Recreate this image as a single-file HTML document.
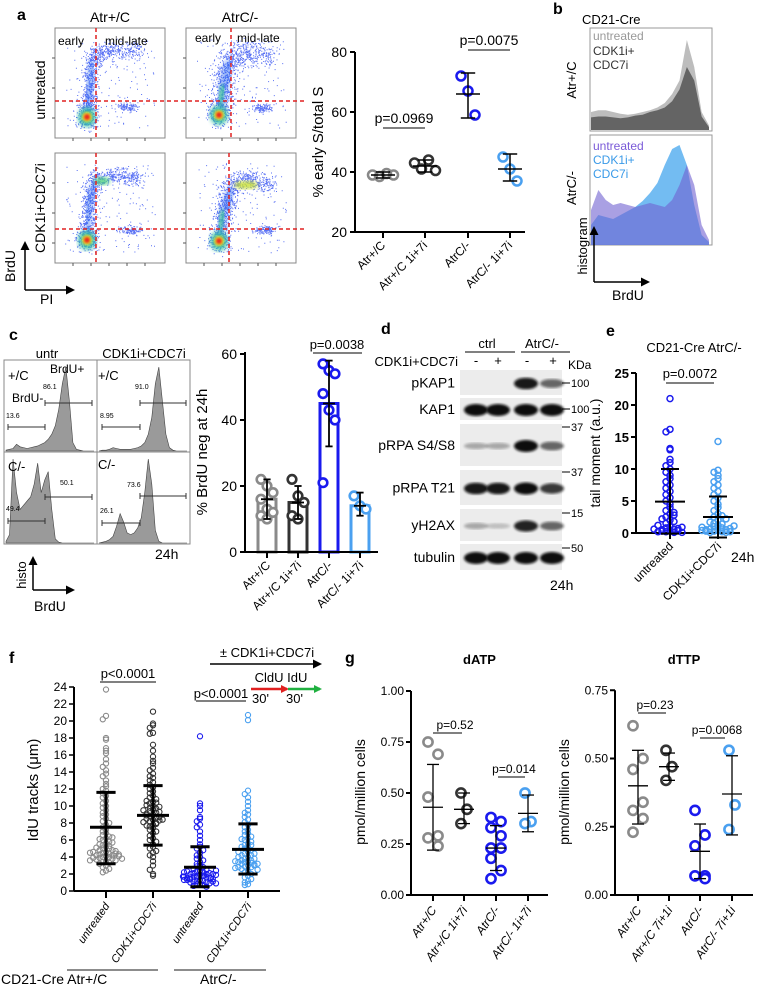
<!DOCTYPE html>
<html><head><meta charset="utf-8"><style>
html,body{margin:0;padding:0;background:#fff}
svg{display:block;font-family:"Liberation Sans",Arial,sans-serif}
</style></head><body>
<svg id="fig" width="764" height="988" viewBox="0 0 764 988" xmlns="http://www.w3.org/2000/svg">
<defs>
<filter id="b2"><feGaussianBlur stdDeviation="2"/></filter>
<filter id="b4"><feGaussianBlur stdDeviation="4"/></filter>
<filter id="b1"><feGaussianBlur stdDeviation="1.2"/></filter>
<marker id="ah" markerUnits="userSpaceOnUse" markerWidth="9" markerHeight="9" refX="7" refY="4.5" orient="auto"><path d="M0,0 L9,4.5 L0,9 z" fill="#000"/></marker>
<marker id="ahr" markerUnits="userSpaceOnUse" markerWidth="8" markerHeight="8" refX="6" refY="4" orient="auto"><path d="M0,0 L8,4 L0,8 z" fill="#e02020"/></marker>
<marker id="ahg" markerUnits="userSpaceOnUse" markerWidth="8" markerHeight="8" refX="6" refY="4" orient="auto"><path d="M0,0 L8,4 L0,8 z" fill="#20b040"/></marker>
</defs>
<g id="root"></g>
</svg>
<script>
// ---------- DATA ----------
// panel a
const aCats=["Atr+/C","Atr+/C 1i+7i","AtrC/-","AtrC/- 1i+7i"];
const aVals=[[39,38.5,39.5,39],[43,41,44,40.5],[72,67,59],[45,41,37]];
const aMeans=[39,42,66,41];
const aLo=[38,40,58,37];
const aHi=[40,44,73,46];
const aTicks=[20,40,60,80];
// panel c
const cCats=["Atr+/C","Atr+/C 1i+7i","AtrC/-","AtrC/- 1i+7i"];
const cVals=[[22,20,18,16,13,12,11,10],[22,17,15,11,10],[57,55,54,48,43,40,21],[17,14,13]];
const cMeans=[16,15,45,14];
const cLo=[10,10,32,11];
const cHi=[22,20,58,18];
const cTicks=[0,20,40,60];
// panel e
const eCats=["untreated","CDK1i+CDC7i"];
const eUntr=[21,16.2,15.8,13.2,13,11.5,11,10.5,10,9.5,9,8.5,8,7.5,7,6.5,6,5.5,5,4.5,4,3.5,3,2.5,2,1.5,1,0.8,0.6,0.4,0.2,0.1,0.5,0.7,0.3,1.2,1.8,2.2,2.8,3.2,0.9,0.6,0.4,0.2,0.1];
const eTreat=[14.3,9.8,9.5,9,8.5,8,7.5,7,6.5,6,5.5,5,4.5,4,3.5,3,2.5,2,1.5,1.2,1,0.8,0.6,0.5,0.4,0.3,0.2,0.1,0.1,0.3,0.5,0.7,0.9,1.1,1.4,1.7,2.2,2.7,0.2,0.4];
const eMeans=[4.9,2.5];
const eLo=[-0.1,-0.7];
const eHi=[10,5.7];
const eTicks=[0,5,10,15,20,25];
// panel f
const fCats=["untreated","CDK1i+CDC7i","untreated","CDK1i+CDC7i"];
const fG1=[23.7,20.6,20.2,18,17.8,16.8,16.5,16.2,15.5,15,14.6,14.2,13.8,13.5,13,12.6,12.3,12,11.8,11.5,11.2,11,10.6,10.3,10,9.8,9.5,9.2,9,8.8,8.5,8.2,8,7.8,7.5,7.2,7,6.8,6.6,6.4,6.2,6,5.8,5.6,5.4,5.2,5,5,4.8,4.6,4.5,4.4,4.3,4.2,4.1,4,4,3.9,3.8,3.7,3.6,3.5,3.4,3.3,3.2,3,2.8,2.6,2.4,2.2,4.2,4.4,4.6,4.8,5.1,5.3,5.5,5.7,6.1,6.3,3.9,4.1,4.3,4.5,4.7,3.6,3.8];
const fG2=[21.1,19.7,19.5,19.2,18.6,18.5,17.2,16.5,15.8,15.3,15,14.5,14.2,13.8,13.5,13.3,13,12.8,12.5,12.2,12,11.7,11.5,11.2,11,10.8,10.5,10.3,10,9.8,9.6,9.4,9.2,9,8.8,8.6,8.4,8.2,8,7.8,7.6,7.4,7.2,7,6.8,6.5,6.2,6,5.8,5.5,5.2,5,4.7,4.5,4.2,4,3.5,3,2.5,2,1.8,9.1,9.3,8.9,8.7,8.5,8.3,9.5,9.7,10.1,10.4,7.9,7.7,8.1,8.4,9.9,10.6];
const fG3=[18.2,10.3,10,9.5,8.7,8.5,8.2,7.8,7.5,7,6.5,6,5.5,5.2,5,4.8,4.5,4.2,4,3.8,3.6,3.4,3.2,3,2.9,2.8,2.6,2.5,2.4,2.3,2.2,2.1,2,2,1.9,1.8,1.8,1.7,1.6,1.6,1.5,1.5,1.4,1.3,1.2,1.2,1.1,1,1,0.9,0.8,0.8,0.7,0.6,0.5,1.7,1.9,2.1,2.3,1.4,1.6,1.8,2,1.3,1.5,2.2,2.4,1.1,1.3,1.7,0.9];
const fG4=[20.7,20.1,11.8,11.4,11,10.5,10,9.5,9.2,9,8.7,8.4,8.1,7.8,7.5,7.2,7,6.8,6.6,6.4,6.2,6,5.8,5.6,5.4,5.2,5,4.8,4.6,4.4,4.2,4,3.8,3.6,3.5,3.4,3.3,3.2,3.1,3,2.9,2.8,2.6,2.4,2.2,2,1.8,1.6,1.4,1.2,1,0.8,0.7,3.4,3.6,3.8,4,4.2,3.2,3,2.8,4.4,5.2,5.4,2.5,2.7,3.5,4.6,6.1];
const fMeans=[7.5,8.9,2.8,4.9];
const fLo=[3.2,5.4,0.5,2];
const fHi=[11.6,12.4,5.2,7.9];
const fTicks=[0,2,4,6,8,10,12,14,16,18,20,22,24];
// panel g
const gCats=["Atr+/C","Atr+/C 1i+7i","AtrC/-","AtrC/- 1i+7i"];
const gCats2=["Atr+/C","Atr+/C 7i+1i","AtrC/-","AtrC/- 7i+1i"];
const dATP=[[0.75,0.69,0.48,0.29,0.28,0.24],[0.50,0.42,0.35],[0.38,0.36,0.33,0.29,0.23,0.23,0.18,0.12,0.08],[0.50,0.36,0.35]];
const dATPm=[0.43,0.42,0.23,0.40];
const dATPlo=[0.22,0.35,0.12,0.31];
const dATPhi=[0.64,0.50,0.34,0.49];
const dTTP=[[0.62,0.50,0.46,0.34,0.31,0.28,0.23],[0.53,0.47,0.42],[0.31,0.22,0.18,0.07,0.07,0.06],[0.53,0.33,0.24]];
const dTTPm=[0.40,0.47,0.16,0.37];
const dTTPlo=[0.26,0.42,0.06,0.22];
const dTTPhi=[0.53,0.52,0.26,0.51];
const gTicksA=[0,0.25,0.5,0.75,1.0];
const gTicksT=[0,0.25,0.5,0.75];
// histogram shapes (relative heights)
const hC1=[1,2,3,8,5,4,3,4,5,6,8,10,14,20,30,50,80,100,60,10,2,1,0,0,0,0];
const hC2=[0,1,1,2,4,3,2,2,2,2,3,4,6,10,20,40,80,100,60,20,4,1,0,0,0,0];
const hC3=[2,10,100,60,40,45,50,55,70,95,60,75,85,40,5,1,0,0,0,0,0,0,0,0,0,0];
const hC4=[0,1,2,4,8,20,35,25,12,10,12,18,30,60,100,70,15,2,0,0,0,0,0,0,0,0];
const hB1=[20,22,22,20,18,17,18,20,22,25,30,40,55,100,70,20,5];
const hB2=[14,15,15,14,13,14,16,17,20,22,25,32,45,70,55,15,3];
const hB3=[35,55,45,40,42,40,38,40,42,40,38,45,60,80,60,20,5];
const hB4=[20,30,28,26,30,34,38,44,52,62,80,96,100,80,40,10,3];

const NS="http://www.w3.org/2000/svg";
const root=document.getElementById('root');
function el(tag,attrs,parent){const e=document.createElementNS(NS,tag);for(const k in attrs)e.setAttribute(k,attrs[k]);(parent||root).appendChild(e);return e;}
function tx(x,y,s,size,extra,parent){const e=el('text',Object.assign({x:x,y:y,'font-size':size||13,fill:'#000'},extra||{}),parent);e.textContent=s;return e;}
function ln(x1,y1,x2,y2,w,c,parent){return el('line',{x1:x1,y1:y1,x2:x2,y2:y2,stroke:c||'#000','stroke-width':w||1},parent);}

function errbar(g,cx,yM,yL,yH,hw,w,c){
  ln(cx,yL,cx,yH,w,c,g);ln(cx-hw*0.6,yL,cx+hw*0.6,yL,w,c,g);ln(cx-hw*0.6,yH,cx+hw*0.6,yH,w,c,g);ln(cx-hw,yM,cx+hw,yM,w,c,g);
}
function swarm(vals,binH,step,maxOff){
  const bins={};const offs=[];
  vals.forEach((v,i)=>{const b=Math.round(v/binH);bins[b]=(bins[b]||0);const k=bins[b];bins[b]++;let o=(k%2?-1:1)*Math.ceil(k/2)*step;if(Math.abs(o)>maxOff)o=((k*7)%(2*maxOff+1))-maxOff;offs.push(o);});
  return offs;
}
// deterministic texture generator for flow-cytometry speckle (visual only)
let seed=12345;function rnd(){seed=(seed*1103515245+12345)%2147483648;return seed/2147483648;}
function gauss(){return (rnd()+rnd()+rnd()-1.5)*1.4;}

// ================= PANEL A =================
tx(17,20,'a',16,{'font-weight':'bold',});
tx(110,22,'Atr+/C',14,{'text-anchor':'middle',});
tx(240,22,'AtrC/-',14,{'text-anchor':'middle',});
tx(45,90,'untreated',14,{'text-anchor':'middle',transform:'rotate(-90 45 90)',});
tx(45,208,'CDK1i+CDC7i',14,{'text-anchor':'middle',transform:'rotate(-90 45 208)',});
const facs=[
 {x:55,y:28,vx:96,pts:[[87,117],[89,90],[93,55],[110,50],[140,52]],side:[128,107],w:6,t:0},
 {x:186,y:28,vx:231,pts:[[219,115],[224,85],[230,55],[250,52],[268,56]],side:[262,108],w:9,t:1},
 {x:55,y:153,vx:96,pts:[[87,240],[88,210],[94,178],[115,176],[140,178]],side:[130,230],w:6,t:0},
 {x:186,y:153,vx:229,pts:[[219,241],[224,210],[232,182],[250,180],[272,186]],side:[265,230],w:7,t:1}];
facs.forEach((f,i)=>{
  const g=el('g',{});
  el('rect',{x:f.x,y:f.y,width:110,height:110,fill:'#fff',stroke:'#888','stroke-width':1},g);
  const P=f.pts;let d='';
  // speckle along the path
  for(let s=0;s<P.length-1;s++){
    const [x1,y1]=P[s],[x2,y2]=P[s+1];
    const n=s<2?260:180;
    for(let k=0;k<n;k++){const t=rnd();const x=x1+(x2-x1)*t+gauss()*f.w;const y=y1+(y2-y1)*t+gauss()*f.w;if(x>f.x+1&&x<f.x+109&&y>f.y+1&&y<f.y+109)d+=`M${x.toFixed(1)},${y.toFixed(1)}h1v1h-1z`;}
  }
  for(let k=0;k<150;k++){const x=f.x+10+rnd()*90,y=f.y+10+rnd()*90;d+=`M${x.toFixed(1)},${y.toFixed(1)}h1v1h-1z`;}
  for(let k=0;k<120;k++){const x=f.side[0]+gauss()*7,y=f.side[1]+gauss()*3;d+=`M${x.toFixed(1)},${y.toFixed(1)}h1v1h-1z`;}
  for(let k=0;k<200;k++){const x=P[0][0]+gauss()*8,y=P[0][1]+gauss()*8;d+=`M${x.toFixed(1)},${y.toFixed(1)}h1v1h-1z`;}
  el('path',{d:d,fill:'#2040f0',opacity:0.75},g);
  el('path',{d:`M${P[0][0]},${P[0][1]-6} L${P[1][0]},${P[1][1]} L${P[2][0]},${P[2][1]+6}`,stroke:'#2060f0','stroke-width':f.w+1,fill:'none',opacity:0.45,filter:'url(#b2)'},g);
  if(f.t) el('path',{d:`M${P[0][0]},${P[0][1]-10} L${P[1][0]},${P[1][1]}`,stroke:'#40d090','stroke-width':5,fill:'none',opacity:0.8,filter:'url(#b2)'},g);
  if(i>=2) el('ellipse',{cx:P[2][0]+(f.t?14:8),cy:P[2][1]+3,rx:f.t?12:8,ry:4,fill:f.t?'#c8e030':'#50d080',opacity:0.85,filter:'url(#b2)'},g);
  const [bx,by]=P[0];
  el('ellipse',{cx:bx,cy:by,rx:9,ry:10,fill:'#30c0a0',opacity:0.8,filter:'url(#b2)'},g);
  el('ellipse',{cx:bx,cy:by,rx:5,ry:5,fill:'#f0e020',filter:'url(#b1)'},g);
  el('ellipse',{cx:bx,cy:by,rx:3,ry:3,fill:'#e82020',filter:'url(#b1)'},g);
  for(let k=1;k<6;k++){ln(f.x+k*18,f.y+110,f.x+k*18,f.y+113,1,'#555',g);}
  for(let k=1;k<4;k++){ln(f.x-3,f.y+k*30,f.x,f.y+k*30,1,'#555',g);}
  ln(f.vx,f.y,f.vx,f.y+110,1.5,'#e02020',g).setAttribute('stroke-dasharray','4,3');
});
ln(55,101,305,101,1.5,'#e02020').setAttribute('stroke-dasharray','4,3');
ln(55,229,305,229,1.5,'#e02020').setAttribute('stroke-dasharray','4,3');
tx(58,45,'early',12);tx(105,45,'mid-late',12);tx(195,42,'early',12);tx(237,42,'mid-late',12);
ln(25,290,25,243,1.5).setAttribute('marker-end','url(#ah)');
ln(25,290,73,290,1.5).setAttribute('marker-end','url(#ah)');
tx(15,266,'BrdU',14,{'text-anchor':'middle',transform:'rotate(-90 15 266)',});
tx(40,304,'PI',14,{});

// panel a chart
(function(){
  const g=el('g',{});
  const y=v=>232-(v-20)*3, xs=[383,425,468,510];
  ln(355,52,355,232,2,'#000',g);ln(355,232,525,232,2,'#000',g);
  aTicks.forEach(t=>{ln(350,y(t),355,y(t),2,'#000',g);tx(347,y(t)+5,String(t),14,{'text-anchor':'end'},g);});
  tx(323,142,'% early S/total S',15,{'text-anchor':'middle',transform:'rotate(-90 323 142)',},g);
  const cols=['#888','#333','#1a1aee','#4aa0f0'];
  aCats.forEach((c,i)=>{
    ln(xs[i],232,xs[i],238,2,'#000',g);
    tx(xs[i]+3,246,c,12,{'text-anchor':'end',transform:`rotate(-45 ${xs[i]+3} 246)`},g);
    aVals[i].forEach((v,k)=>{const p=el('circle',{cx:xs[i]+(k-(aVals[i].length-1)/2)*7,cy:y(v),r:4.5,fill:'none',stroke:cols[i],'stroke-width':2.5},g);});
    errbar(g,xs[i],y(aMeans[i]),y(aLo[i]),y(aHi[i]),12,1.5,'#000');
  });
  tx(404,123,'p=0.0969',14,{'text-anchor':'middle'},g);ln(383,128,425,128,1,'#000',g);
  tx(489,45,'p=0.0075',14,{'text-anchor':'middle'},g);ln(468,50,510,50,1,'#000',g);
})();

// ================= PANEL B =================
tx(553,14,'b',16,{'font-weight':'bold',});
tx(582,24,'CD21-Cre',13,{});
function histo(g,x0,w,yb,h,arr,fill,op){
  const n=arr.length,dx=w/(n-1);let d=`M${x0},${yb}`;arr.forEach((v,i)=>{d+=` L${x0+i*dx},${yb-v/100*h}`;});d+=` L${x0+w},${yb} Z`;
  const p=el('path',{d:d,fill:fill,opacity:op,stroke:'none'},g);return p;
}
(function(){
  const g=el('g',{});
  el('rect',{x:590,y:28,width:122,height:103,fill:'#fff',stroke:'#999'},g);
  el('rect',{x:590,y:135,width:122,height:110,fill:'#fff',stroke:'#999'},g);
  histo(g,591,118,130,90,hB1,'#bdbdbd',1);
  histo(g,591,118,130,90,hB2,'#5a5a5a',0.9);
  histo(g,591,118,245,100,hB4,'#5ab0f0',0.85);
  histo(g,591,118,245,100,hB3,'#7060d0',0.6);
  tx(593,40,'untreated',12,{fill:'#999'},g);tx(593,55,'CDK1i+',12,{fill:'#333'},g);tx(593,69,'CDC7i',12,{fill:'#333'},g);
  tx(593,150,'untreated',12,{fill:'#7a5ad8'},g);tx(593,164,'CDK1i+',12,{fill:'#3a9ae8'},g);tx(593,178,'CDC7i',12,{fill:'#3a9ae8'},g);
  tx(576,80,'Atr+/C',13,{'text-anchor':'middle',transform:'rotate(-90 576 80)'},g);
  tx(576,188,'AtrC/-',13,{'text-anchor':'middle',transform:'rotate(-90 576 188)'},g);
  tx(587,246,'histogram',13,{'text-anchor':'middle',transform:'rotate(-90 587 246)'},g);
  ln(594,282,594,228,1.5,'#000',g).setAttribute('marker-end','url(#ah)');
  ln(594,282,648,282,1.5,'#000',g).setAttribute('marker-end','url(#ah)');
  tx(612,300,'BrdU',14,{},g);
})();

// ================= PANEL C =================
tx(9,340,'c',16,{'font-weight':'bold',});
tx(47,358,'untr',13,{'text-anchor':'middle'});tx(144,358,'CDK1i+CDC7i',13,{'text-anchor':'middle'});
(function(){
  const g=el('g',{});
  const boxes=[[4,360,hC1],[97,360,hC2],[4,452,hC3],[97,452,hC4]];
  boxes.forEach(([x,y,a])=>{el('rect',{x:x,y:y,width:93,height:92,fill:'#fff',stroke:'#888'},g);const p=histo(g,x+2,88,y+91,84,a,'#9a9a9a',1);p.setAttribute('stroke','#444');p.setAttribute('stroke-width','0.6');});
  const gate=(x1,x2,yy)=>{ln(x1,yy,x2,yy,1,'#333',g);ln(x1,yy-3,x1,yy+3,1,'#333',g);ln(x2,yy-3,x2,yy+3,1,'#333',g);};
  gate(45,92,403);gate(8,45,427);gate(140,186,403);gate(102,140,427);
  gate(45,92,497);gate(8,45,521);gate(140,186,496);gate(102,140,523);
  tx(8,380,'+/C',13,{},g);tx(50,373,'BrdU+',12,{},g);tx(12,402,'BrdU-',12,{},g);tx(98,380,'+/C',13,{},g);
  tx(8,471,'C/-',13,{},g);tx(98,469,'C/-',13,{},g);
  [['86.1',43,389],['13.6',6,418],['91.0',135,389],['8.95',100,418],['50.1',60,485],['49.4',6,511],['73.6',127,487],['26.1',100,513]].forEach(a=>tx(a[1],a[2],a[0],7,{},g));
  tx(155,559,'24h',14,{},g);
  ln(33,590,33,558,1.5,'#000',g).setAttribute('marker-end','url(#ah)');
  ln(33,590,73,590,1.5,'#000',g).setAttribute('marker-end','url(#ah)');
  tx(26,575,'histo',13,{'text-anchor':'middle',transform:'rotate(-90 26 575)'},g);
  tx(34,611,'BrdU',14,{},g);
})();
(function(){
  const g=el('g',{});
  const y=v=>552-v*3.3, xs=[267,298,329,360];
  const cols=['#8a8a8a','#333','#1a1aee','#4aa0f0'];
  cCats.forEach((c,i)=>{
    const r=el('rect',{x:xs[i]-9,y:y(cMeans[i]),width:18,height:552-y(cMeans[i]),fill:'none',stroke:cols[i],'stroke-width':3},g);
    
    cVals[i].forEach((v,k)=>{el('circle',{cx:xs[i]+((k%3)-1)*6,cy:y(v),r:4.3,fill:'#fff',stroke:cols[i],'stroke-width':2.6},g);});
    errbar(g,xs[i],y(cMeans[i]),y(cLo[i]),y(cHi[i]),6,1.8,'#000');
    ln(xs[i],552,xs[i],558,2,'#000',g);
    tx(xs[i]+4,566,c,12,{'text-anchor':'end',transform:`rotate(-45 ${xs[i]+4} 566)`},g);
  });
  ln(245,352,245,552,2,'#000',g);ln(245,552,378,552,2,'#000',g);
  cTicks.forEach(t=>{ln(240,y(t),245,y(t),2,'#000',g);tx(237,y(t)+5,String(t),14,{'text-anchor':'end'},g);});
  tx(207,452,'% BrdU neg at 24h',15,{'text-anchor':'middle',transform:'rotate(-90 207 452)'},g);
  tx(337,349,'p=0.0038',13,{'text-anchor':'middle'},g);ln(313,353,362,353,1,'#000',g);
})();

// ================= PANEL D =================
tx(381,334,'d',16,{'font-weight':'bold',});
(function(){
  const g=el('g',{});
  tx(487,348,'ctrl',13,{'text-anchor':'middle'},g);tx(542,348,'AtrC/-',13,{'text-anchor':'middle'},g);
  ln(465,352,515,352,1,'#000',g);ln(521,352,570,352,1,'#000',g);
  tx(458,366,'CDK1i+CDC7i',13,{'text-anchor':'end'},g);
  const lx=[476,498,527,553];['-','+','-','+'].forEach((s,i)=>tx(lx[i],365,s,13,{'text-anchor':'middle'},g));
  tx(568,369,'KDa',12,{},g);
  const strips=[['pKAP1',370,25,[0,0,0.95,0.6],'100',383],['KAP1',398,22,[1,1,1,1],'100',409],['pRPA S4/S8',424,42,[0.3,0.3,1,0.6],'37',427],['pRPA T21',470,35,[0.95,0.95,1,0.8],'37',472],['yH2AX',509,32,[0.3,0.2,0.9,0.6],'15',513],['tubulin',544,26,[1,1,1,1],'50',548]];
  strips.forEach(s=>{
    const [nm,yy,h,ints,kd,ky]=s;
    const sg=el('g',{},g);
    el('rect',{x:460,y:yy,width:102,height:h,fill:'#ececec'},sg);
    ints.forEach((v,i)=>{if(v>0)el('ellipse',{cx:lx[i]+(i==2||i==3?-1:0),cy:yy+h/2+1,rx:12,ry:2+4*v,fill:'#111',opacity:v,filter:'url(#b1)'},sg);});
    tx(455,yy+h/2+5,nm,14,{'text-anchor':'end'},sg);
    ln(562,ky,570,ky,1,'#000',sg);tx(571,ky+4,kd,11,{},sg);
  });
  tx(550,590,'24h',14,{},g);
})();

// ================= PANEL E =================
tx(606,336,'e',16,{'font-weight':'bold',});
tx(694,352,'CD21-Cre AtrC/-',13,{'text-anchor':'middle',});
(function(){
  const g=el('g',{});
  const y=v=>533-v*6.4, xs=[670,718];
  ln(636,373,636,533,2,'#000',g);ln(636,533,740,533,2,'#000',g);
  eTicks.forEach(t=>{ln(631,y(t),636,y(t),2,'#000',g);tx(629,y(t)+5,String(t),13,{'text-anchor':'end','font-weight':'bold'},g);});
  tx(600,453,'tail moment (a.u.)',14,{'text-anchor':'middle',transform:'rotate(-90 600 453)'},g);
  [eUntr,eTreat].forEach((vals,i)=>{
    const col=i?'#4aa0f0':'#1a1aee';const offs=swarm(vals,0.9,4,16);
    vals.forEach((v,k)=>{const c=el('circle',{cx:xs[i]+offs[k],cy:y(v),r:3,fill:'none',stroke:col,'stroke-width':1.5},g);});
    errbar(g,xs[i],y(eMeans[i]),y(eLo[i]),y(eHi[i]),15,2,'#000');
    ln(xs[i],533,xs[i],539,2,'#000',g);
    tx(xs[i]+4,547,eCats[i],12,{'text-anchor':'end',transform:`rotate(-45 ${xs[i]+4} 547)`},g);
  });
  tx(690,378,'p=0.0072',13,{'text-anchor':'middle'},g);ln(666,383,714,383,1,'#000',g);
  tx(731,562,'24h',14,{},g);
})();

// ================= PANEL F =================
tx(9,663,'f',16,{'font-weight':'bold',});
(function(){
  const g=el('g',{});
  const y=v=>891-v*8.5, xs=[106,153,200,248];
  const cols=['#8a8a8a','#333','#1a1aee','#4aa0f0'];
  [fG1,fG2,fG3,fG4].forEach((vals,i)=>{
    const offs=swarm(vals,0.55,3.2,17);
    vals.forEach((v,k)=>{const c=el('circle',{cx:xs[i]+offs[k],cy:y(v),r:2.6,fill:'none',stroke:cols[i],'stroke-width':1.1},g);});
  });
  fCats.forEach((c,i)=>{
    errbar(g,xs[i],y(fMeans[i]),y(fLo[i]),y(fHi[i]),16,3,'#000');
    ln(xs[i],891,xs[i],898,2,'#000',g);
    tx(xs[i]+4,906,c,11,{'text-anchor':'end','font-style':'italic',transform:`rotate(-55 ${xs[i]+4} 906)`},g);
  });
  ln(74,687,74,891,2,'#000',g);ln(74,891,280,891,2,'#000',g);
  fTicks.forEach(t=>{ln(69,y(t),74,y(t),1.5,'#000',g);tx(67,y(t)+4,String(t),12,{'text-anchor':'end'},g);});
  tx(38,790,'IdU tracks (\u03bcm)',15,{'text-anchor':'middle',transform:'rotate(-90 38 790)'},g);
  tx(128,678,'p<0.0001',13,{'text-anchor':'middle'},g);ln(100,682,156,682,1,'#000',g);
  tx(221,698,'p<0.0001',13,{'text-anchor':'middle'},g);ln(196,701,246,701,1,'#000',g);
  ln(67,970,158,970,1.5,'#666',g);ln(174,970,266,970,1.5,'#666',g);
  tx(1,984,'CD21-Cre  Atr+/C',14,{},g);tx(200,984,'AtrC/-',14,{},g);
  tx(267,657,'\u00b1 CDK1i+CDC7i',13,{'text-anchor':'middle'},g);
  ln(210,664,320,664,1.5,'#000',g).setAttribute('marker-end','url(#ah)');
  tx(281,682,'CldU IdU',13,{'text-anchor':'middle'},g);
  ln(251,689,287,689,2.5,'#e02020',g).setAttribute('marker-end','url(#ahr)');
  ln(288,689,320,689,2.5,'#20b040',g).setAttribute('marker-end','url(#ahg)');
  tx(252,703,"30'",13,{},g);tx(286,703,"30'",13,{},g);
})();

// ================= PANEL G =================
tx(345,663,'g',16,{'font-weight':'bold',});
function gChart(name,title,axX,endX,xs,scale,ticks,vals,m,lo,hi,cats,pvals){
  const g=el('g',{});
  const y=v=>895-v*scale;const cols=['#8a8a8a','#333','#1a1aee','#4aa0f0'];
  tx((axX+endX)/2,664,title,13,{'text-anchor':'middle','font-weight':'bold'},g);
  ln(axX,y(ticks[ticks.length-1]),axX,895,2,'#000',g);ln(axX,895,endX,895,2,'#000',g);
  ticks.forEach(t=>{ln(axX-5,y(t),axX,y(t),2,'#000',g);tx(axX-7,y(t)+4,t.toFixed(2),12,{'text-anchor':'end'},g);});
  tx(axX-46,792,'pmol/million cells',14,{'text-anchor':'middle',transform:`rotate(-90 ${axX-46} 792)`},g);
  cats.forEach((c,i)=>{
    vals[i].forEach((v,k)=>{const cc=el('circle',{cx:xs[i]+((k%2)?5:-5)*(vals[i].length>3?1:0.6),cy:y(v),r:4.6,fill:'#fff',stroke:cols[i],'stroke-width':2.6},g);});
    errbar(g,xs[i],y(m[i]),y(lo[i]),y(hi[i]),10,1.3,'#000');
    ln(xs[i],895,xs[i],901,2,'#000',g);
    tx(xs[i]+4,910,c,12,{'text-anchor':'end','font-style':'italic',transform:`rotate(-55 ${xs[i]+4} 910)`},g);
  });
  pvals.forEach(p=>{tx(p[0],p[1],p[2],12,{'text-anchor':'middle'},g);ln(p[3],p[1]+4,p[4],p[1]+4,1,'#000',g);});
}
gChart('datp-chart','dATP',411,548,[433,464,496,528],204,gTicksA,dATP,dATPm,dATPlo,dATPhi,gCats,[[455,729,'p=0.52',433,462],[514,773,'p=0.014',498,525]]);
gChart('dttp-chart','dTTP',615,753,[638,669,700,732],273,gTicksT,dTTP,dTTPm,dTTPlo,dTTPhi,gCats2,[[655,709,'p=0.23',638,666],[717,734,'p=0.0068',700,725]]);
</script>
</body></html>
